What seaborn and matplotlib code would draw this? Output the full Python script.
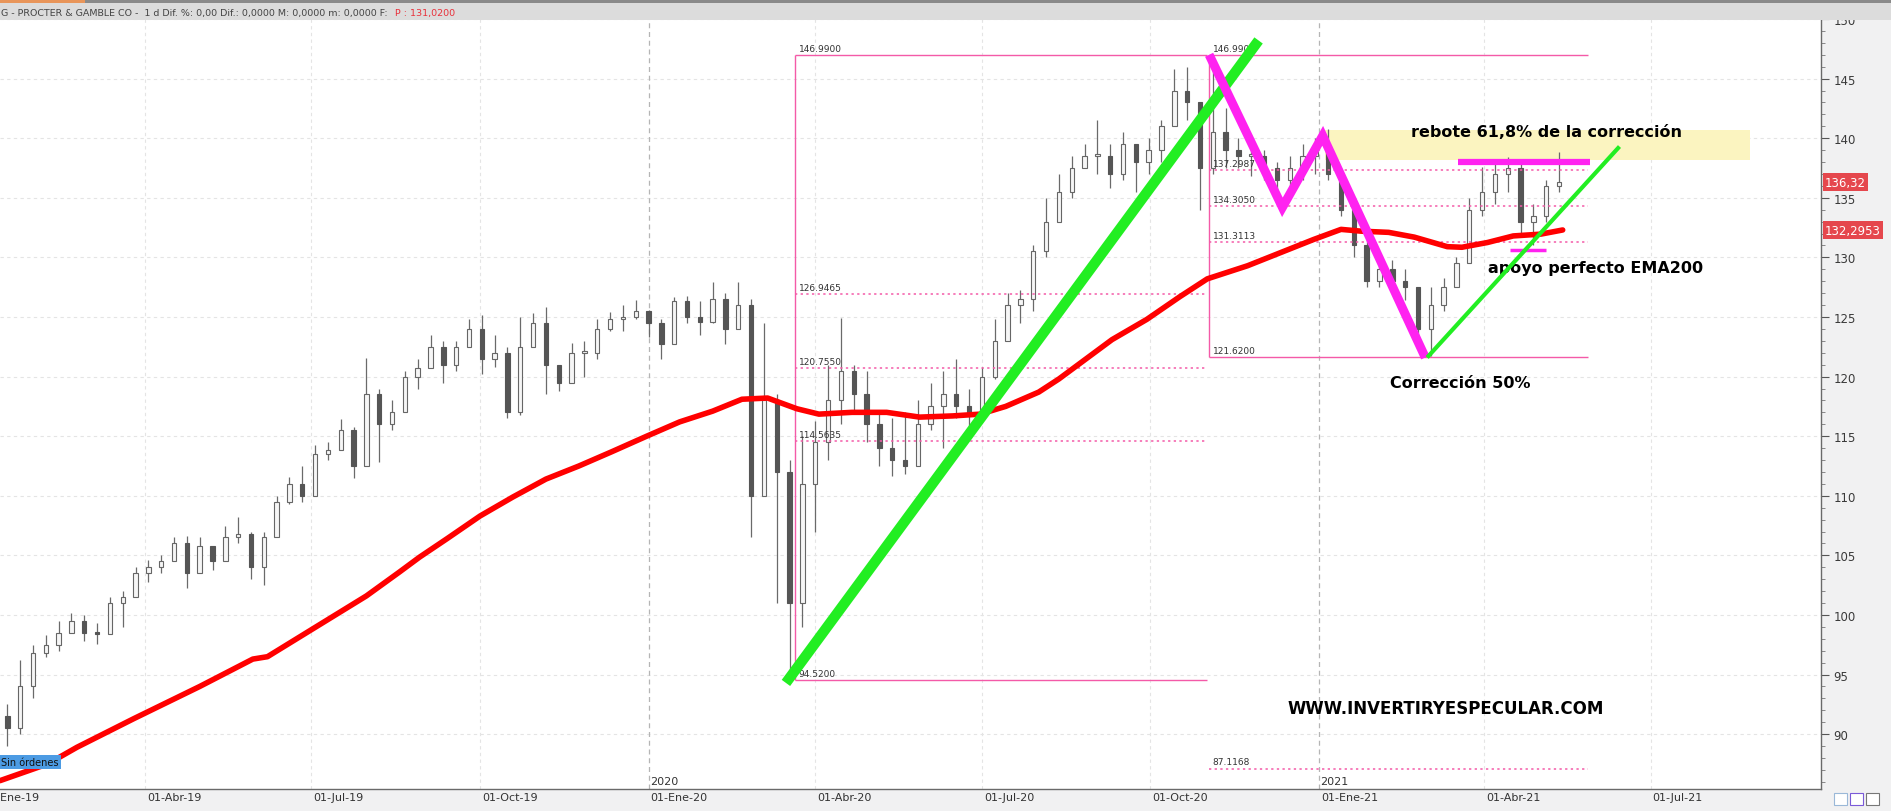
import numpy as np
import pandas as pd
import matplotlib
matplotlib.use("Agg")
import matplotlib.pyplot as plt
import matplotlib.dates as mdates
from matplotlib.patches import Rectangle
import seaborn as sns

# ---------------- data ----------------
week_start = "2019-01-07"          # Monday of first weekly candle
first_open = 91.0
close = [91.5, 90.5, 94.0, 96.8, 97.5, 98.5, 99.5, 98.5, 98.4, 101.0,
         101.5, 103.5, 104.0, 104.5, 106.0, 103.5, 105.8, 104.5, 106.5, 106.8,
         104.0, 106.5, 109.5, 111.0, 110.0, 113.5, 113.8, 115.5, 112.5, 118.5,
         116.0, 117.0, 120.0, 120.7, 122.5, 121.0, 122.5, 124.0, 121.5, 122.0,
         117.0, 122.5, 124.5, 121.0, 119.5, 122.0, 122.0, 124.0, 124.8, 125.0,
         125.5, 124.5, 122.7, 126.3, 125.0, 124.6, 126.5, 124.0, 126.0, 110.0,
         118.0, 112.0, 101.0, 111.0, 114.5, 118.0, 120.5, 118.5, 116.0, 114.0,
         113.0, 112.5, 116.0, 117.5, 118.5, 117.5, 117.0, 120.0, 123.0, 126.0,
         126.5, 130.5, 133.0, 135.5, 137.5, 138.5, 138.5, 137.0, 139.5, 138.0,
         139.0, 141.0, 144.0, 143.0, 137.5, 140.5, 139.0, 138.5, 138.5, 137.5,
         136.5, 137.5, 138.5, 139.0, 137.0, 134.0, 131.0, 128.0, 129.0, 128.0,
         127.5, 124.0, 126.0, 127.5, 129.5, 134.0, 135.5, 137.0, 137.5, 133.0,
         133.5, 136.0, 136.32]
high = [92.5, 92.5, 96.2, 97.5, 98.3, 99.5, 100.2, 100.0, 99.3, 101.5,
        102.0, 104.0, 104.6, 105.0, 106.5, 106.6, 106.5, 105.8, 107.5, 108.2,
        107.0, 107.0, 110.0, 111.6, 112.5, 114.3, 114.5, 116.4, 115.8, 121.6,
        119.0, 118.0, 120.5, 121.5, 123.5, 123.0, 123.0, 124.8, 125.2, 123.5,
        122.5, 125.0, 125.3, 125.8, 121.0, 122.8, 123.0, 124.8, 125.4, 126.0,
        126.4, 125.6, 124.8, 126.7, 126.8, 126.3, 127.9, 127.0, 127.9, 126.5,
        124.5, 118.5, 113.0, 115.0, 116.3, 121.0, 124.9, 121.0, 120.5, 117.0,
        116.5, 117.0, 118.0, 119.5, 120.5, 121.5, 119.0, 120.8, 124.8, 127.0,
        127.3, 131.0, 135.0, 137.0, 138.5, 139.5, 141.5, 139.5, 140.5, 139.5,
        140.0, 141.5, 145.8, 146.0, 143.0, 147.0, 142.5, 140.0, 139.5, 139.0,
        138.0, 138.5, 139.5, 140.0, 140.8, 137.5, 134.0, 131.5, 130.3, 129.8,
        129.0, 127.5, 127.5, 128.3, 130.0, 135.0, 137.6, 138.0, 138.4, 138.0,
        134.5, 136.5, 138.8]
low = [90.5, 89.0, 90.0, 93.0, 96.5, 97.0, 98.5, 97.8, 97.6, 98.5,
       99.0, 101.5, 102.8, 103.5, 104.5, 102.3, 103.5, 103.8, 104.5, 106.0,
       103.0, 102.5, 106.5, 109.3, 109.5, 110.8, 113.0, 113.8, 111.5, 112.5,
       112.8, 115.5, 117.5, 119.0, 121.0, 119.5, 120.5, 122.5, 120.2, 120.8,
       116.5, 116.8, 122.5, 118.5, 118.8, 119.7, 120.0, 121.5, 123.8, 123.8,
       124.8, 123.3, 121.5, 122.8, 124.5, 123.5, 124.5, 122.7, 124.8, 106.5,
       110.0, 101.0, 94.5, 99.0, 107.0, 113.0, 116.0, 117.0, 114.5, 112.5,
       111.7, 111.8, 113.5, 115.5, 114.0, 116.5, 115.8, 116.3, 119.8, 123.5,
       124.5, 125.5, 130.0, 133.5, 135.0, 137.5, 137.0, 135.8, 136.5, 135.5,
       137.0, 138.0, 141.0, 141.5, 134.0, 137.0, 137.5, 137.5, 136.8, 136.5,
       135.5, 135.8, 136.5, 137.0, 136.5, 133.5, 130.0, 127.5, 127.5, 127.0,
       126.4, 123.0, 121.7, 125.5, 127.5, 129.5, 133.5, 134.5, 135.5, 131.8,
       131.0, 133.0, 135.5]

ema_dates = ["2019-01-12", "2019-02-07", "2019-02-23", "2019-03-26", "2019-05-01",
             "2019-05-30", "2019-06-07", "2019-07-13", "2019-07-31", "2019-08-18",
             "2019-08-29", "2019-09-13", "2019-10-01", "2019-10-19", "2019-11-06",
             "2019-11-24", "2019-12-12", "2019-12-31", "2020-01-18", "2020-02-05",
             "2020-02-21", "2020-03-06", "2020-03-22", "2020-04-03", "2020-04-21",
             "2020-05-10", "2020-05-28", "2020-06-15", "2020-06-30", "2020-07-14",
             "2020-08-01", "2020-08-12", "2020-09-10", "2020-09-29", "2020-10-17",
             "2020-11-01", "2020-11-23", "2020-12-29", "2021-01-13", "2021-01-24",
             "2021-02-08", "2021-02-22", "2021-03-12", "2021-03-20", "2021-04-03",
             "2021-04-17", "2021-05-02", "2021-05-14"]
ema_values = [86.1, 87.5, 88.9, 91.3, 94.0,
              96.3, 96.5, 99.9, 101.6, 103.6,
              104.85, 106.4, 108.3, 109.9, 111.4,
              112.5, 113.7, 115.0, 116.2, 117.1,
              118.1, 118.2, 117.3, 116.85, 117.0,
              117.0, 116.6, 116.7, 116.85, 117.5,
              118.7, 119.8, 123.1, 124.8, 126.7,
              128.2, 129.3, 131.5, 132.35, 132.2,
              132.1, 131.7, 130.9, 130.85, 131.25,
              131.8, 131.95, 132.3]

fib1_dates = ["2020-03-21", "2020-11-01"]
fib1_levels = [146.99, 126.9465, 120.755, 114.5635, 94.52]
fib1_labels = ["146.9900", "126.9465", "120.7550", "114.5635", "94.5200"]
fib1_solid = [True, False, False, False, True]

fib2_dates = ["2020-11-02", "2021-05-28"]
fib2_levels = [146.99, 137.2987, 134.305, 131.3113, 121.62, 87.1168]
fib2_labels = ["146.990", "137.2987", "134.3050", "131.3113", "121.6200", "87.1168"]
fib2_solid = [True, False, False, False, True, False]

green_big_dates = ["2020-03-16", "2020-11-29"]
green_big_prices = [94.3, 148.2]
zigzag_dates = ["2020-11-02", "2020-12-12", "2021-01-03", "2021-02-28"]
zigzag_prices = [147.0, 134.2, 140.2, 121.6]
green_thin_dates = ["2021-03-01", "2021-06-14"]
green_thin_prices = [121.6, 139.3]
resist_dates = ["2021-03-18", "2021-05-29"]
resist_price = 138.0
support_dates = ["2021-04-15", "2021-05-05"]
support_price = 130.65
zone_dates = ["2021-01-04", "2021-08-24"]
zone_prices = [138.2, 140.65]

quarter_ticks = ["2019-01-01", "2019-04-01", "2019-07-01", "2019-10-01", "2020-01-01",
                 "2020-04-01", "2020-07-01", "2020-10-01", "2021-01-01", "2021-04-01",
                 "2021-07-01"]
quarter_labels = ["01-Ene-19", "01-Abr-19", "01-Jul-19", "01-Oct-19", "01-Ene-20",
                  "01-Abr-20", "01-Jul-20", "01-Oct-20", "01-Ene-21", "01-Abr-21",
                  "01-Jul-21"]
year_ticks = ["2020-01-01", "2021-01-01"]
year_labels = ["2020", "2021"]
price_ticks = [90, 95, 100, 105, 110, 115, 120, 125, 130, 135, 140, 145, 150]
x_range = ["2019-01-12", "2021-10-02"]
y_range = [85.4, 150.0]
last_price = 136.32
last_ema = 132.2953
header_text = "G - PROCTER & GAMBLE CO -  1 d Dif. %: 0,00 Dif.: 0,0000 M: 0,0000 m: 0,0000 F:"
header_price = "P : 131,0200"

# ---------------- style ----------------
sns.set_style("white")
plt.rcParams["font.family"] = ["DejaVu Sans"]

W, H = 1891, 812
fig = plt.figure(figsize=(W / 100, H / 100), dpi=100, facecolor="#f1f1f2")
ax_left, ax_right, ax_top, ax_bot = 0, 1821, 20, 790
ax = fig.add_axes([ax_left / W, (H - ax_bot) / H, (ax_right - ax_left) / W, (ax_bot - ax_top) / H])
ax.set_facecolor("white")

def dn(s):
    return mdates.date2num(pd.to_datetime(s))

ax.set_xlim(dn(x_range[0]), dn(x_range[1]))
ax.set_ylim(*y_range)

# grid
for p in price_ticks:
    ax.axhline(p, color="#e4e4e4", lw=0.8, ls=(0, (3, 3)), zorder=0.5)
for q in quarter_ticks:
    if q in year_ticks:
        ax.axvline(dn(q), color="#b5b5b5", lw=0.9, ls=(0, (4, 3)), zorder=0.6)
    else:
        ax.axvline(dn(q), color="#e4e4e4", lw=0.8, ls=(0, (3, 3)), zorder=0.5)

# yellow zone
zx = [dn(d) for d in zone_dates]
ax.add_patch(Rectangle((zx[0], zone_prices[0]), zx[1] - zx[0], zone_prices[1] - zone_prices[0],
                       facecolor="#fbf4c0", edgecolor="none", zorder=0.8))

# candles
c = np.array(close); h = np.array(high); l = np.array(low)
o = np.r_[first_open, c[:-1]]
xd = mdates.date2num(pd.date_range(week_start, periods=len(c), freq="7D") + pd.Timedelta(days=2))
ax.vlines(xd, l, h, color="#6a6a6a", lw=0.9, zorder=2)
up = c >= o
bot = np.minimum(o, c)
hgt = np.maximum(np.abs(c - o), 0.15)
ax.bar(xd[up], hgt[up], bottom=bot[up], width=2.4, color="#f6f6f6", edgecolor="#666666",
       linewidth=0.8, zorder=2.1)
ax.bar(xd[~up], hgt[~up], bottom=bot[~up], width=2.4, color="#555555", edgecolor="#555555",
       linewidth=0.8, zorder=2.1)

# fibonacci retracements
pink = "#f45aa8"
def draw_fib(dates, levels, labels, solid):
    a, b = dn(dates[0]), dn(dates[1])
    ax.vlines(a, levels[4] if len(levels) > 5 else levels[-1], levels[0], color=pink, lw=1.0, zorder=2.5)
    for lv, lab, s in zip(levels, labels, solid):
        ax.hlines(lv, a, b, color=pink, lw=1.0 if s else 1.1,
                  linestyles="solid" if s else (0, (1.5, 2.2)), zorder=2.5)
        ax.annotate(lab, (a, lv), xytext=(2.5, 1.5), textcoords="offset points",
                    fontsize=6.5, color="#333333", va="bottom", ha="left", zorder=2.6)
draw_fib(fib1_dates, fib1_levels, fib1_labels, fib1_solid)
draw_fib(fib2_dates, fib2_levels, fib2_labels, fib2_solid)

# EMA 200
ema_df = pd.DataFrame({"date": pd.to_datetime(ema_dates), "ema": ema_values})
sns.lineplot(data=ema_df, x="date", y="ema", color="#ff0000", lw=4, ax=ax, zorder=3,
             estimator=None, sort=True)
ax.set_xlabel(""); ax.set_ylabel("")

# annotations
ax.plot([dn(d) for d in green_big_dates], green_big_prices, color="#22ee22", lw=7.5,
        solid_capstyle="butt", zorder=5)
ax.plot([dn(d) for d in zigzag_dates], zigzag_prices, color="#ff22f0", lw=6.5,
        solid_capstyle="butt", solid_joinstyle="miter", zorder=5)
ax.plot([dn(d) for d in resist_dates], [resist_price] * 2, color="#ff22f0", lw=4.5,
        solid_capstyle="butt", zorder=5)
ax.plot([dn(d) for d in support_dates], [support_price] * 2, color="#ff22f0", lw=2.5,
        solid_capstyle="butt", zorder=5)

tkw = dict(fontsize=11.5, fontweight="bold", color="black", ha="center", va="center", zorder=4)
ax.text(dn("2021-05-05"), 140.6, "rebote 61,8% de la corrección", **tkw)
ax.text(dn("2021-06-01"), 129.18, "apoyo perfecto EMA200", **tkw)
ax.text(dn("2021-03-19"), 119.5, "Corrección 50%", **tkw)
ax.text(dn("2021-03-11"), 92.2, "WWW.INVERTIRYESPECULAR.COM", **dict(tkw, fontsize=12))

ax.plot([dn(d) for d in green_thin_dates], green_thin_prices, color="#22ee22", lw=3.0,
        solid_capstyle="butt", zorder=6)

# axes / ticks
for s in ["left", "top"]:
    ax.spines[s].set_visible(False)
ax.spines["right"].set_color("#6a6a6a")
ax.spines["bottom"].set_color("#6a6a6a")
ax.spines["right"].set_linewidth(1.0)
ax.spines["bottom"].set_linewidth(1.0)
ax.yaxis.tick_right()
ax.set_yticks(price_ticks)
ax.set_yticks(np.arange(86, 151, 1), minor=True)
ax.tick_params(axis="y", which="major", direction="out", length=6, width=0.8, colors="#555555",
               labelsize=8.5, pad=3, labelcolor="#3a3a3a")
ax.tick_params(axis="y", which="minor", direction="out", length=3, width=0.6, colors="#777777")
xt = [dn(q) for q in quarter_ticks if dn(x_range[0]) <= dn(q) <= dn(x_range[1])]
ax.set_xticks(xt)
ax.set_xticks([], minor=True)
ax.tick_params(axis="x", which="major", direction="out", length=6, width=0.8, colors="#666666",
               labelbottom=False)
for q, lab in zip(quarter_ticks, quarter_labels):
    ax.annotate(lab, xy=(dn(q), 0), xycoords=("data", "axes fraction"), xytext=(1.5, -2.5),
                textcoords="offset points", ha="left", va="top", fontsize=8, color="#333333",
                annotation_clip=False)
for q, lab in zip(year_ticks, year_labels):
    ax.annotate(lab, xy=(dn(q), 0), xycoords=("data", "axes fraction"), xytext=(1, 2),
                textcoords="offset points", ha="left", va="bottom", fontsize=8, color="#333333",
                annotation_clip=False)

# price labels on the right axis
for val, txt in [(last_price, "136,32"), (last_ema, "132,2953")]:
    ax.annotate(txt, xy=(1, val), xycoords=("axes fraction", "data"), xytext=(3, 0),
                textcoords="offset points", ha="left", va="center", fontsize=8.5, color="white",
                bbox=dict(boxstyle="square,pad=0.18", fc="#e5474d", ec="none"),
                annotation_clip=False, zorder=10)

# header band
fig.patches.append(Rectangle((0, 1 - 21 / H), 1, 21 / H, transform=fig.transFigure,
                             facecolor="#dcdcdc", edgecolor="none", zorder=5))
fig.patches.append(Rectangle((0, 1 - 4 / H), 1, 4 / H, transform=fig.transFigure,
                             facecolor="#8a8a8a", edgecolor="none", zorder=6))
fig.patches.append(Rectangle((0, 1 - 4 / H), 85 / W, 4 / H, transform=fig.transFigure,
                             facecolor="#e8955a", edgecolor="none", zorder=7))
t1 = fig.text(1 / W, 1 - 13.5 / H, header_text, fontsize=6.8, color="#444444", va="center",
              ha="left", zorder=8)
fig.canvas.draw()
bb = t1.get_window_extent()
fig.text((bb.x1 + 7) / W, 1 - 13.5 / H, header_price, fontsize=6.8, color="#e8303a", va="center",
         ha="left", zorder=8)

# "Sin órdenes" tag
fig.text(1 / W, 1 - 763 / H, "Sin órdenes", fontsize=7, color="#111111", va="center", ha="left",
         bbox=dict(boxstyle="square,pad=0.25", fc="#4c9be3", ec="none"), zorder=9)

# bottom-right small icons
for i, col in enumerate(["#9ab8d8", "#7a5ad8", "#777777"]):
    fig.patches.append(Rectangle(((1834 + i * 16) / W, (H - 806) / H), 13 / W, 12 / H,
                                 transform=fig.transFigure, facecolor="white",
                                 edgecolor=col, lw=0.8, zorder=7))

fig.savefig("out.png", dpi=100, facecolor=fig.get_facecolor())
